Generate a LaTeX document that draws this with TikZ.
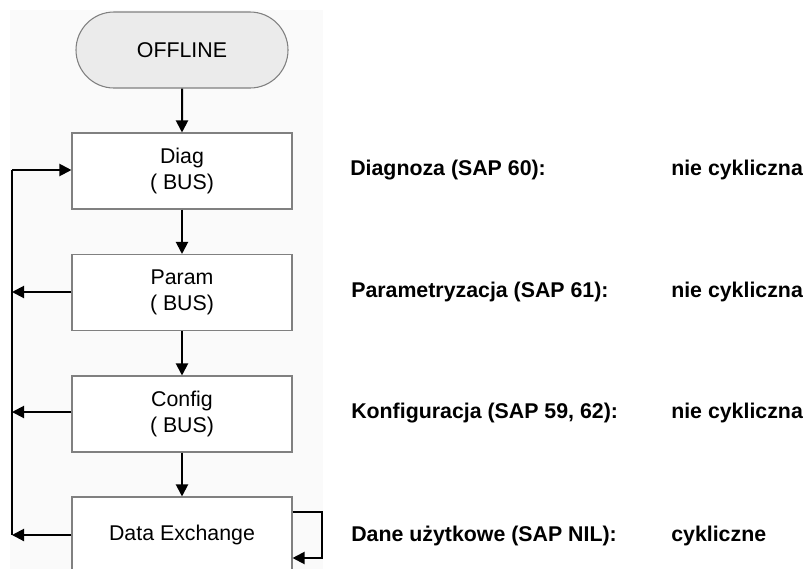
\documentclass[tikz,border=0pt]{standalone}
\usepackage{fontspec}
\setmainfont{Liberation Sans}
\usetikzlibrary{arrows.meta,shapes.misc}
\definecolor{panel}{HTML}{FAFAFA}
\definecolor{termfill}{HTML}{EBEBEB}
\definecolor{boxline}{HTML}{808080}
\tikzset{
  stepbox/.style={draw=boxline,line width=0.8pt,fill=white,minimum width=165pt,minimum height=57pt,inner sep=0pt,align=center,font=\fontsize{16}{19.5}\selectfont},
  termbox/.style={draw=boxline,line width=0.8pt,fill=termfill,rounded rectangle,minimum width=159pt,minimum height=57pt,inner sep=0pt,font=\fontsize{16}{19.5}\selectfont},
  conn/.style={line width=1.5pt,-{Triangle[length=9pt,width=9pt]}},
  plain/.style={line width=1.5pt},
  lbl/.style={anchor=west,inner sep=0pt,font=\bfseries\fontsize{16}{19.5}\selectfont}
}
\begin{document}
\begin{tikzpicture}[x=0.75pt,y=-0.75pt]
\useasboundingbox (0,0) rectangle (806,568);
\clip (0,0) rectangle (806,568);
\fill[white] (0,0) rectangle (806,568);
\fill[panel] (10,10) rectangle (323,580);
\node[termbox] (off) at (182,50) {OFFLINE};
\node[stepbox] (diag) at (182,171) {Diag\\( BUS)};
\node[stepbox] (param) at (182,292.5) {Param\\( BUS)};
\node[stepbox] (conf) at (182,414) {Config\\( BUS)};
\node[stepbox] (data) at (182,535) {Data Exchange};
\draw[conn] (off) -- (diag);
\draw[conn] (diag) -- (param);
\draw[conn] (param) -- (conf);
\draw[conn] (conf) -- (data);
\coordinate (lt) at (12,170);
\coordinate (lp) at (12,292);
\coordinate (lc) at (12,412);
\coordinate (ld) at (12,535);
\draw[plain] (ld) -- (lt);
\draw[conn] (lt) -- (diag.west |- lt);
\draw[conn] (param.west |- lp) -- (lp);
\draw[conn] (conf.west |- lc) -- (lc);
\draw[conn] (data.west |- ld) -- (ld);
\coordinate (sa) at (322,512);
\coordinate (sb) at (322,558);
\draw[conn] (data.east |- sa) -- (sa) -- (sb) -- (data.east |- sb);
\node[lbl] (t1) at (350,170) {Diagnoza (SAP 60):};
\node[lbl] (t2) at (351,292) {Parametryzacja (SAP 61):};
\node[lbl] (t3) at (351,413) {Konfiguracja (SAP 59, 62):};
\node[lbl] (t4) at (351,536) {Dane użytkowe (SAP NIL):};
\node[lbl] (v1) at (671,170) {nie cykliczna};
\node[lbl] (v2) at (671,292) {nie cykliczna};
\node[lbl] (v3) at (671,413) {nie cykliczna};
\node[lbl] (v4) at (671,536) {cykliczne};
\end{tikzpicture}
\end{document}
